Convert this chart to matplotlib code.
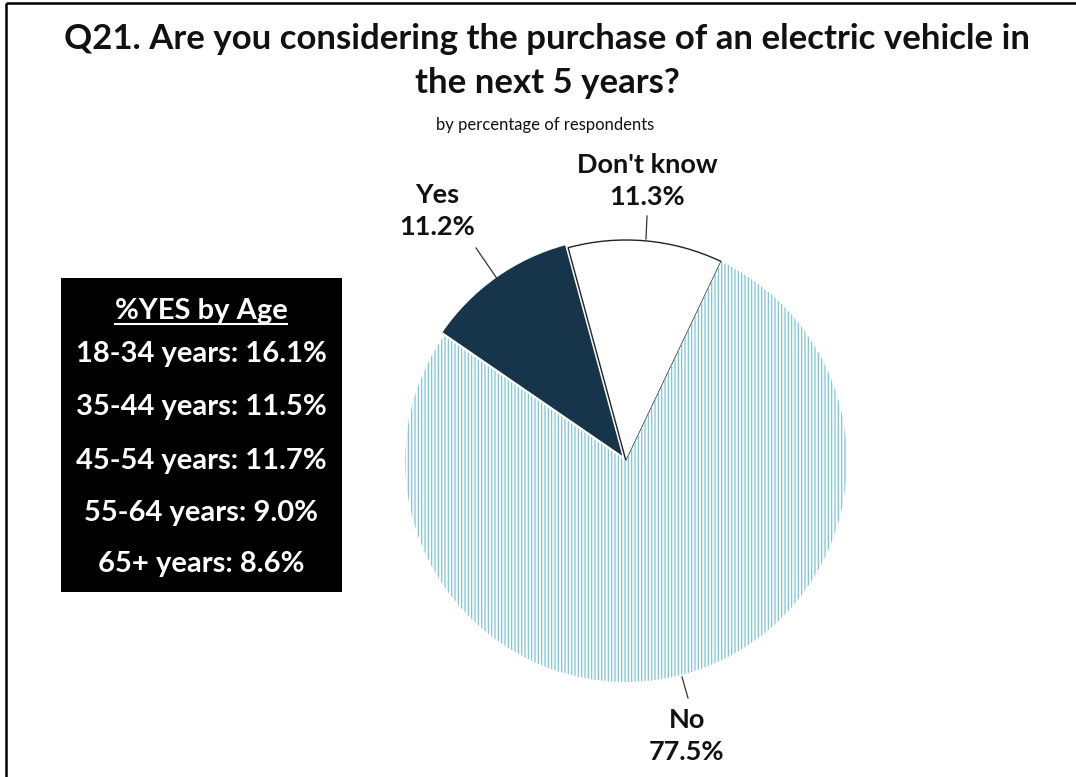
import matplotlib
matplotlib.use("Agg")
import matplotlib.pyplot as plt
from matplotlib.patches import Rectangle

# ---- data ----
categories = ["Yes", "Don't know", "No"]
shares = [11.2, 11.3, 77.5]
age_groups = ["18-34 years", "35-44 years", "45-54 years", "55-64 years", "65+ years"]
yes_by_age = [16.1, 11.5, 11.7, 9.0, 8.6]
title = "Q21. Are you considering the purchase of an electric vehicle in\nthe next 5 years?"
subtitle = "by percentage of respondents"
box_title = "%YES by Age"

FONT = ["Lato", "DejaVu Sans"]
plt.rcParams['font.family'] = FONT
plt.rcParams['hatch.linewidth'] = 0.9

W, H = 1076, 777
fig = plt.figure(figsize=(W / 100, H / 100), dpi=100)
ax = fig.add_axes([0, 0, 1, 1])

def py(y):  # pixel-from-top to data y
    return H - y

# pie (explode given in data units = pixels)
cx, cy, R = 626, py(461), 221
colors = ['#16344A', 'white', 'white']
wedges, _ = ax.pie(shares, colors=colors, startangle=145.5, counterclock=False,
                   center=(cx, cy), radius=R, explode=[6.5, 0, 0], frame=True,
                   wedgeprops=dict(linewidth=0))
wedges[0].set_radius(R - 3)
wedges[1].set_edgecolor('#222222')
wedges[1].set_linewidth(1.0)
wedges[2].set_hatch('|||||')
wedges[2].set_edgecolor('#7CC5DB')
wedges[2].set_linewidth(0)
ax.set_xlim(0, W)
ax.set_ylim(0, H)
ax.set_aspect('equal')
ax.axis('off')

# frame lines (top and left)
ax.plot([5.5, W], [py(2.5), py(2.5)], color='black', lw=1.8, solid_capstyle='butt')
ax.plot([5.5, 5.5], [py(2.5), 0], color='black', lw=1.8, solid_capstyle='butt')

# title
ax.text(547, py(61), title, ha='center', va='center', fontsize=25, fontweight='bold',
        linespacing=1.48, color='#111111')
ax.text(545, py(125), subtitle, ha='center', va='center', fontsize=12, color='#111111')

# data labels
lab_kw = dict(ha='center', va='center', fontsize=19.5, fontweight='bold', color='#111111',
              linespacing=1.42)
label_pos = {"Yes": (437, 211), "Don't know": (647, 181), "No": (687, 736)}
for cat, val in zip(categories, shares):
    x, y = label_pos[cat]
    ax.text(x, py(y), f"{cat}\n{val:.1f}%", **lab_kw)

# leader lines
for (x0, y0, x1, y1) in [(476, 248, 498, 280), (647, 216, 646, 239), (682, 677, 688, 698)]:
    ax.plot([x0, x1], [py(y0), py(y1)], color='#333333', lw=0.9)

# age box
ax.add_patch(Rectangle((61, py(592)), 281, 314, facecolor='black', edgecolor='none'))
bx = 201
t = ax.text(bx, py(311), box_title, ha='center', va='center', fontsize=21,
            fontweight='bold', color='white')
rows_y = [354, 407, 461, 513, 564]
for g, v, yy in zip(age_groups, yes_by_age, rows_y):
    ax.text(bx, py(yy), f"{g}: {v:.1f}%", ha='center', va='center', fontsize=21,
            fontweight='bold', color='white')

fig.canvas.draw()
bb = t.get_window_extent()
ax.plot([bb.x0, bb.x1], [py(324), py(324)], color='white', lw=1.5)

fig.savefig("out.png", dpi=100, facecolor='white')
